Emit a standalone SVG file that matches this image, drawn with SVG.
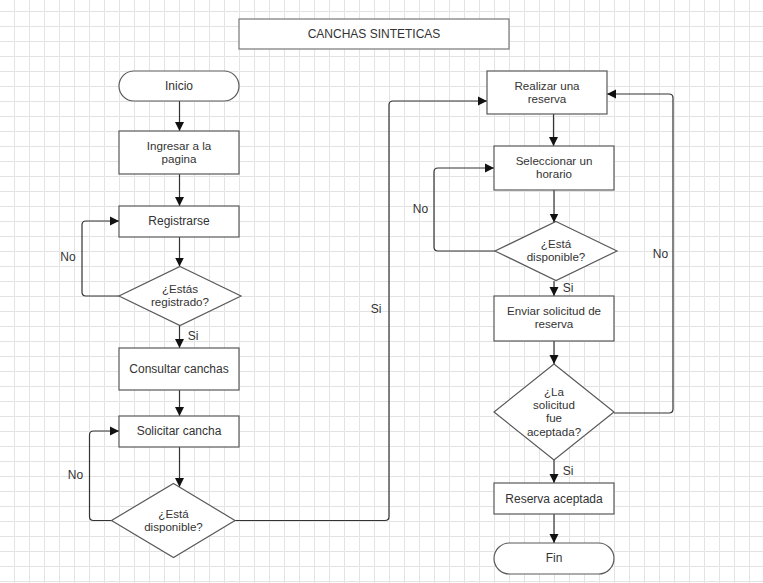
<svg xmlns="http://www.w3.org/2000/svg" width="763" height="583" viewBox="0 0 763 583">
<style>
.shape{fill:#fff;stroke:#595959;stroke-width:1.2}
.conn{fill:none;stroke:#333;stroke-width:1.2}
text{font-family:"Liberation Sans",Arial,sans-serif;font-size:12px;fill:#333;text-anchor:middle}
text.ml{font-size:11.6px}
</style>
<defs>
<pattern id="grid" patternUnits="userSpaceOnUse" x="14" y="11" width="15" height="15">
<path d="M15.5 0.5 H0.5 V15.5" fill="none" stroke="#e3e3e3" stroke-width="1"/>
</pattern>
<marker id="arr" markerUnits="userSpaceOnUse" viewBox="0 0 10 10" refX="10" refY="5" markerWidth="9" markerHeight="10" orient="auto">
<path d="M0 0 L10 5 L0 10 Z" fill="#111"/>
</marker>
</defs>
<rect width="763" height="583" fill="#fff"/>
<rect width="763" height="583" fill="url(#grid)"/>

<g id="title"><rect class="shape" x="239" y="19" width="270" height="30" style="stroke:#777"/><text x="374" y="38">CANCHAS SINTETICAS</text></g>

<g id="connectors">
<path class="conn" marker-end="url(#arr)" d="M179.5 101 V131"/>
<path class="conn" marker-end="url(#arr)" d="M179.5 174 V206"/>
<path class="conn" marker-end="url(#arr)" d="M179.5 237 V266.5"/>
<path class="conn" marker-end="url(#arr)" d="M119 296 H86 Q82 296 82 292 V225 Q82 221 86 221 H119"/>
<path class="conn" marker-end="url(#arr)" d="M179.5 325.5 V348"/>
<path class="conn" marker-end="url(#arr)" d="M179.5 390 V416"/>
<path class="conn" marker-end="url(#arr)" d="M179.5 447 V487"/>
<path class="conn" marker-end="url(#arr)" d="M111.5 520.5 H93.5 Q89.5 520.5 89.5 516.5 V435 Q89.5 431 93.5 431 H119"/>
<path class="conn" marker-end="url(#arr)" d="M235 520.5 H385 Q389 520.5 389 516.5 V105 Q389 101 393 101 H487"/>
<path class="conn" marker-end="url(#arr)" d="M553.5 114 V146"/>
<path class="conn" marker-end="url(#arr)" d="M554 190 V222.5"/>
<path class="conn" marker-end="url(#arr)" d="M495 251 H438 Q434 251 434 247 V172 Q434 168 438 168 H494"/>
<path class="conn" marker-end="url(#arr)" d="M554 281 V296"/>
<path class="conn" marker-end="url(#arr)" d="M554 341 V364"/>
<path class="conn" marker-end="url(#arr)" d="M614 413 H669 Q673 413 673 409 V98 Q673 94 669 94 H607"/>
<path class="conn" marker-end="url(#arr)" d="M554 460 V483"/>
<path class="conn" marker-end="url(#arr)" d="M554 514 V543"/>
<text x="68" y="261">No</text>
<text x="193" y="340">Si</text>
<text x="75.5" y="479">No</text>
<text x="376" y="313">Si</text>
<text x="420.5" y="213">No</text>
<text x="660.5" y="258">No</text>
<text x="568" y="292">Si</text>
<text x="568" y="475">Si</text>
</g>

<g id="inicio"><rect class="shape" x="119" y="71" width="120" height="30" rx="15"/><text x="179" y="90">Inicio</text></g>
<g id="ingresar"><rect class="shape" x="119" y="131" width="120" height="43"/><text class="ml" x="179" y="149.5">Ingresar a la<tspan x="179" dy="13.4">pagina</tspan></text></g>
<g id="registrarse"><rect class="shape" x="119" y="206" width="120" height="31"/><text x="179" y="225">Registrarse</text></g>
<g id="registrado"><path class="shape" d="M180 266.5 L241 296 L180 325.5 L119 296 Z"/><text class="ml" x="180" y="292.5">¿Estás<tspan x="180" dy="13.4">registrado?</tspan></text></g>
<g id="consultar"><rect class="shape" x="119" y="348" width="120" height="42"/><text x="179" y="373">Consultar canchas</text></g>
<g id="solicitar"><rect class="shape" x="119" y="416" width="120" height="31"/><text x="179" y="435">Solicitar cancha</text></g>
<g id="disponible1"><path class="shape" d="M173.5 483.5 L235 520.5 L173.5 557.5 L111.5 520.5 Z"/><text class="ml" x="173.5" y="517.5">¿Está<tspan x="173.5" dy="13.4">disponible?</tspan></text></g>
<g id="realizar"><rect class="shape" x="487" y="71" width="120" height="43"/><text class="ml" x="547" y="89.5">Realizar una<tspan x="547" dy="13.4">reserva</tspan></text></g>
<g id="seleccionar"><rect class="shape" x="494" y="146" width="120" height="44"/><text class="ml" x="554" y="164.5">Seleccionar un<tspan x="554" dy="13.4">horario</tspan></text></g>
<g id="disponible2"><path class="shape" d="M556 221.5 L617 251 L556 280.5 L495 251 Z"/><text class="ml" x="556" y="247.5">¿Está<tspan x="556" dy="13.4">disponible?</tspan></text></g>
<g id="enviar"><rect class="shape" x="494" y="296" width="120" height="45"/><text class="ml" x="554" y="314.5">Enviar solicitud de<tspan x="554" dy="13.4">reserva</tspan></text></g>
<g id="aceptada"><path class="shape" d="M554 364 L614 412 L554 460 L494 412 Z"/><text class="ml" x="554" y="395.5">¿La<tspan x="554" dy="13.4">solicitud</tspan><tspan x="554" dy="13.4">fue</tspan><tspan x="554" dy="13.4">aceptada?</tspan></text></g>
<g id="reserva"><rect class="shape" x="494" y="483" width="120" height="31"/><text x="554" y="502.5">Reserva aceptada</text></g>
<g id="fin"><rect class="shape" x="494" y="543" width="120" height="31" rx="15.5"/><text x="554" y="561.5">Fin</text></g>
</svg>
